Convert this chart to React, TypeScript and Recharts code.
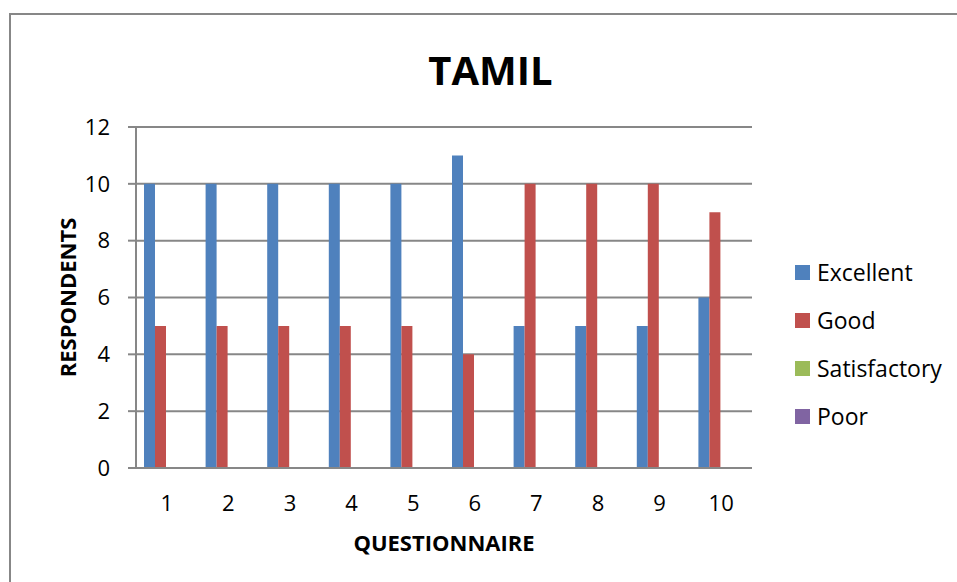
import React from 'react';
import { BarChart, Bar, XAxis, YAxis, CartesianGrid, Label } from 'recharts';

// ─── Data ────────────────────────────────────────────────────────────────────

const QUESTIONS = ['1', '2', '3', '4', '5', '6', '7', '8', '9', '10'];
const EXCELLENT = [10, 10, 10, 10, 10, 11, 5, 5, 5, 6];
const GOOD = [5, 5, 5, 5, 5, 4, 10, 10, 10, 9];
const SATISFACTORY = [0, 0, 0, 0, 0, 0, 0, 0, 0, 0];
const POOR = [0, 0, 0, 0, 0, 0, 0, 0, 0, 0];
const Y_TICKS = [0, 2, 4, 6, 8, 10, 12];

const SERIES = [
  { key: 'excellent', name: 'Excellent', color: '#4F81BD' },
  { key: 'good', name: 'Good', color: '#C0504D' },
  { key: 'satisfactory', name: 'Satisfactory', color: '#9BBB59' },
  { key: 'poor', name: 'Poor', color: '#8064A2' },
];

const chartData = QUESTIONS.map((q, i) => ({
  q,
  excellent: EXCELLENT[i],
  good: GOOD[i],
  satisfactory: SATISFACTORY[i],
  poor: POOR[i],
}));

const FONT = '"Open Sans", Calibri, sans-serif';
const GRID = '#878787';

// ─── Legend (drawn beside the plot, Excel style) ─────────────────────────────

function LegendBox() {
  return (
    <div
      style={{
        position: 'absolute',
        left: 795,
        top: 248,
        fontFamily: FONT,
        fontSize: 23,
        color: '#000',
      }}
    >
      {SERIES.map((s) => (
        <div key={s.key} style={{ display: 'flex', alignItems: 'center', height: 48 }}>
          <div style={{ width: 15, height: 15, background: s.color, marginRight: 7 }} />
          <span>{s.name}</span>
        </div>
      ))}
    </div>
  );
}

export default function App() {
  return (
    <div
      style={{
        position: 'absolute',
        left: 0,
        top: 0,
        width: 957,
        height: 582,
        overflow: 'hidden',
        background: '#fff',
      }}
    >
      {/* outer chart frame */}
      <div
        style={{
          position: 'absolute',
          left: 9,
          top: 13,
          width: 980,
          height: 600,
          border: `2px solid ${GRID}`,
        }}
      />
      <div
        style={{
          position: 'absolute',
          left: 0,
          top: 48,
          width: 981,
          textAlign: 'center',
          fontFamily: FONT,
          fontWeight: 700,
          fontSize: 40,
          lineHeight: '44px',
          color: '#000',
        }}
      >
        TAMIL
      </div>
      <div style={{ position: 'absolute', left: 0, top: 0 }}>
        <BarChart
          width={957}
          height={582}
          data={chartData}
          barCategoryGap={8}
          barGap={0}
          margin={{ top: 127, right: 205, bottom: 84, left: 76 }}
        >
          <CartesianGrid vertical={false} stroke={GRID} strokeWidth={2} />
          <XAxis
            dataKey="q"
            axisLine={{ stroke: GRID, strokeWidth: 2 }}
            tickLine={false}
            tickSize={0}
            tickMargin={27}
            height={30}
            interval={0}
            tick={{ fill: '#000', fontSize: 22, fontFamily: FONT }}
          >
            <Label
              content={({ viewBox }: any) => (
                <text
                  x={viewBox.x + viewBox.width / 2}
                  y={551}
                  textAnchor="middle"
                  fontFamily={FONT}
                  fontWeight={700}
                  fontSize={22}
                  fill="#000"
                >
                  QUESTIONNAIRE
                </text>
              )}
            />
          </XAxis>
          <YAxis
            domain={[0, 12]}
            ticks={Y_TICKS}
            interval={0}
            width={60}
            axisLine={{ stroke: GRID, strokeWidth: 2 }}
            tickLine={{ stroke: GRID, strokeWidth: 2 }}
            tickSize={8}
            tickMargin={18}
            tick={{ fill: '#000', fontSize: 22, fontFamily: FONT }}
          >
            <Label
              content={({ viewBox }: any) => {
                const cy = viewBox.y + viewBox.height / 2;
                return (
                  <text
                    x={76}
                    y={cy}
                    transform={`rotate(-90 76 ${cy})`}
                    textAnchor="middle"
                    fontFamily={FONT}
                    fontWeight={700}
                    fontSize={22}
                    fill="#000"
                  >
                    RESPONDENTS
                  </text>
                );
              }}
            />
          </YAxis>
          {SERIES.map((s) => (
            <Bar
              key={s.key}
              dataKey={s.key}
              name={s.name}
              fill={s.color}
              isAnimationActive={false}
            />
          ))}
        </BarChart>
      </div>
      <LegendBox />
    </div>
  );
}
